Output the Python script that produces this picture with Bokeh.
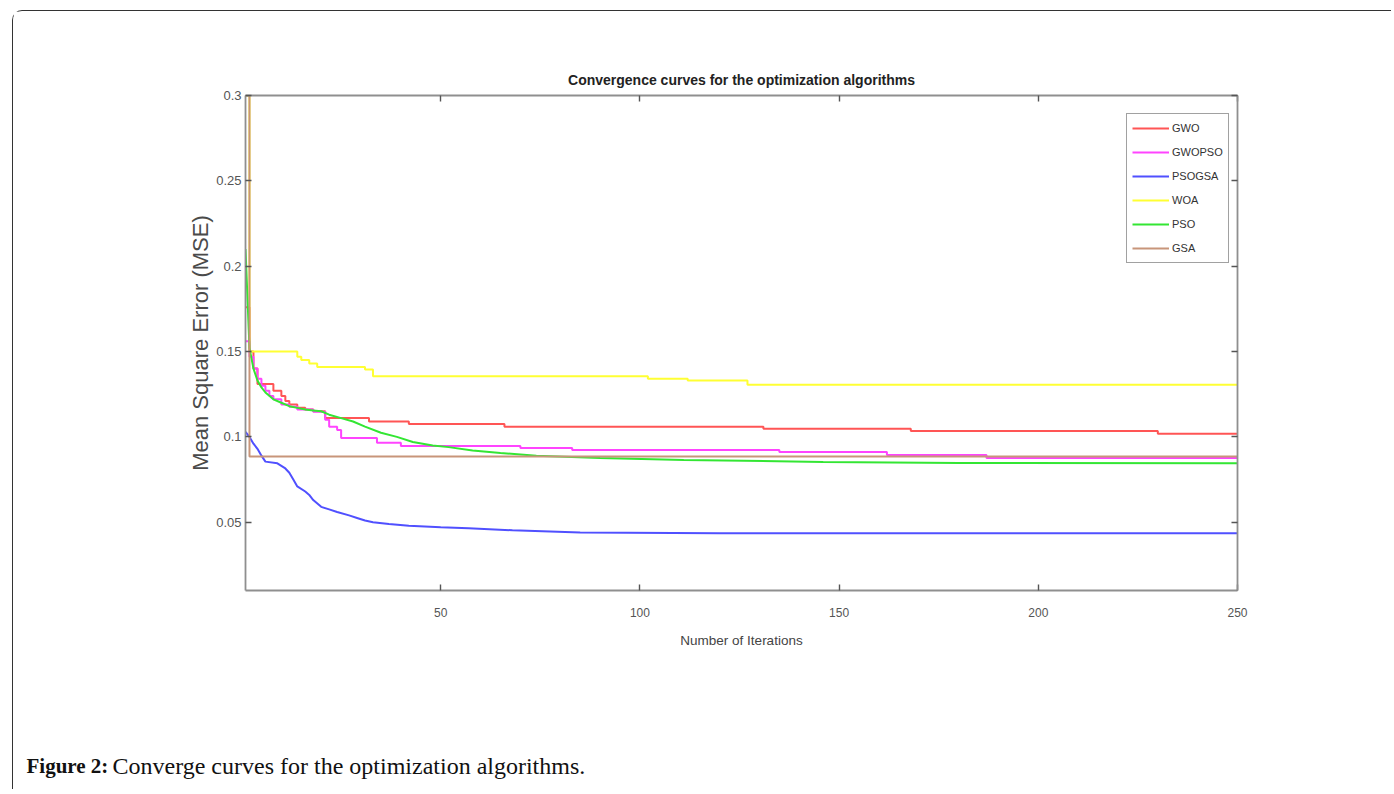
from bokeh.plotting import figure
from bokeh.layouts import column
from bokeh.models import (Range1d, LinearAxis, FixedTicker, Legend, LegendItem)
from bokeh.core.properties import value
from bokeh.embed import file_html
from bokeh.resources import INLINE

# ---------------- data ----------------
x_ticks = [50, 100, 150, 200, 250]
x_tick_labels = ["50", "100", "150", "200", "250"]
y_ticks = [0.05, 0.1, 0.15, 0.2, 0.25, 0.3]
y_tick_labels = ["0.05", "0.1", "0.15", "0.2", "0.25", "0.3"]

series_names = ["GWO", "GWOPSO", "PSOGSA", "WOA", "PSO", "GSA"]

gwo_iter = [1, 2, 3, 4, 8, 10, 11, 12, 14, 16, 18, 21, 32, 42, 66, 131, 168, 230, 250]
gwo_mse = [0.176, 0.150, 0.140, 0.131, 0.127, 0.124, 0.121, 0.119, 0.117, 0.116, 0.115,
           0.111, 0.109, 0.1076, 0.106, 0.1047, 0.1035, 0.1018, 0.1018]

gwopso_iter = [1, 2, 3, 4, 5, 6, 7, 8, 10, 12, 14, 18, 21, 22, 24, 25, 34, 40, 70, 83,
               135, 162, 187, 250]
gwopso_mse = [0.156, 0.147, 0.140, 0.134, 0.130, 0.127, 0.124, 0.122, 0.119, 0.1176,
              0.116, 0.1147, 0.110, 0.106, 0.104, 0.0994, 0.0965, 0.0947, 0.0935,
              0.0923, 0.0912, 0.0894, 0.0876, 0.0876]

psogsa_iter = [1, 2, 3, 4, 5, 6, 9, 11, 12, 13, 14, 16, 17, 18, 20, 22, 24, 27, 29, 31,
               33, 37, 42, 50, 57, 68, 85, 120, 250]
psogsa_mse = [0.103, 0.100, 0.096, 0.093, 0.089, 0.0855, 0.0845, 0.0815, 0.079, 0.075,
              0.071, 0.068, 0.066, 0.063, 0.059, 0.0575, 0.056, 0.054, 0.0525, 0.051,
              0.050, 0.049, 0.048, 0.047, 0.0465, 0.0453, 0.044, 0.0435, 0.0435]

woa_iter = [1, 2, 14, 15, 17, 19, 31, 33, 100, 102, 112, 127, 250]
woa_mse = [0.300, 0.150, 0.147, 0.145, 0.143, 0.141, 0.1395, 0.1355, 0.1355, 0.134,
           0.133, 0.1305, 0.1305]

pso_iter = [1, 2, 3, 4, 5, 6, 8, 10, 12, 14, 16, 18, 20, 22, 25, 28, 31, 35, 39, 43,
            48, 52, 58, 65, 74, 90, 111, 146, 180, 250]
pso_mse = [0.210, 0.152, 0.140, 0.133, 0.129, 0.126, 0.122, 0.120, 0.118, 0.117, 0.116,
           0.1155, 0.115, 0.113, 0.111, 0.109, 0.106, 0.1024, 0.100, 0.097, 0.095, 0.094,
           0.092, 0.0906, 0.089, 0.0876, 0.0865, 0.0853, 0.0847, 0.0845]

gsa_iter = [1, 2, 250]
gsa_mse = [0.300, 0.0885, 0.0885]

colors = ["#ff5555", "#ff44ff", "#5050ff", "#ffff33", "#33e633", "#c8957a"]
stepped = [True, True, False, True, False, True]

caption_bold = "Figure 2:"
caption_text = "Converge curves for the optimization algorithms."
chart_title = "Convergence curves for the optimization algorithms"

# ---------------- geometry (page px) ----------------
OX, OY = 13, 11            # where the content starts (inside outer border)
W1, H1 = 1378, 669         # main figure
H2 = 109                   # caption strip
F_L, F_T, F_R, F_B = 245, 95, 1237, 590   # frame edges on page

p = figure(width=W1, height=H1, output_backend="svg", toolbar_location=None,
           x_range=Range1d(1, 250), y_range=Range1d(0.01, 0.3),
           x_axis_location=None, y_axis_location=None,
           min_border_left=F_L - OX, min_border_right=OX + W1 - F_R,
           min_border_top=F_T - OY, min_border_bottom=OY + H1 - F_B,
           title=chart_title)
p.grid.visible = False
p.outline_line_color = None
p.background_fill_color = "white"
p.border_fill_color = "white"
p.title.align = "center"
p.title.text_font = "Liberation Sans"
p.title.text_font_size = "14px"
p.title.text_font_style = "bold"
p.title.text_color = "#222222"
p.title.standoff = 16

AXIS_COLOR = "#8f8f8f"
TICK_COLOR = "#555555"


def style_axis(ax):
    ax.axis_line_color = AXIS_COLOR
    ax.axis_line_width = 1.8
    ax.major_tick_in = 6
    ax.major_tick_out = 0
    ax.major_tick_line_color = TICK_COLOR
    ax.major_tick_line_width = 1.4
    ax.minor_tick_line_color = None


xb = LinearAxis(ticker=FixedTicker(ticks=x_ticks),
                major_label_overrides=dict(zip(x_ticks, x_tick_labels)),
                axis_label="Number of Iterations")
style_axis(xb)
xb.major_label_text_font = "Liberation Sans"
xb.major_label_text_font_size = "12px"
xb.major_label_text_color = "#555555"
xb.major_label_standoff = 17
xb.axis_label_text_font = "Liberation Sans"
xb.axis_label_text_font_size = "13.5px"
xb.axis_label_text_font_style = "normal"
xb.axis_label_text_color = "#444444"
xb.axis_label_standoff = 13
p.add_layout(xb, "below")

yl = LinearAxis(ticker=FixedTicker(ticks=y_ticks),
                major_label_overrides=dict(zip(y_ticks, y_tick_labels)),
                axis_label="Mean Square Error (MSE)")
style_axis(yl)
yl.major_label_text_font = "Liberation Sans"
yl.major_label_text_font_size = "13px"
yl.major_label_text_color = "#555555"
yl.major_label_standoff = 4
yl.axis_label_text_font = "Liberation Sans"
yl.axis_label_text_font_size = "22px"
yl.axis_label_text_font_style = "normal"
yl.axis_label_text_color = "#4a4a4a"
yl.axis_label_standoff = 0
p.add_layout(yl, "left")

xt = LinearAxis(ticker=FixedTicker(ticks=x_ticks))
style_axis(xt)
xt.major_label_text_alpha = 0
xt.major_label_text_font_size = "1px"
xt.major_label_standoff = 0
p.add_layout(xt, "above")

yr = LinearAxis(ticker=FixedTicker(ticks=y_ticks))
style_axis(yr)
yr.major_label_text_alpha = 0
yr.major_label_text_font_size = "1px"
p.add_layout(yr, "right")

# ---------------- curves ----------------
all_x = [gwo_iter, gwopso_iter, psogsa_iter, woa_iter, pso_iter, gsa_iter]
all_y = [gwo_mse, gwopso_mse, psogsa_mse, woa_mse, pso_mse, gsa_mse]
renderers = []
for i in range(6):
    if stepped[i]:
        r = p.step(all_x[i], all_y[i], mode="after", line_color=colors[i], line_width=2)
    else:
        r = p.line(all_x[i], all_y[i], line_color=colors[i], line_width=2)
    renderers.append(r)

legend = Legend(items=[LegendItem(label=series_names[i], renderers=[renderers[i]])
                       for i in range(6)],
                location=(1126 - F_L, F_B - 263))
legend.padding = 5
legend.spacing = 6
legend.label_height = 18
legend.glyph_height = 18
legend.glyph_width = 37
legend.label_standoff = 3
legend.margin = 0
legend.label_text_font = "Liberation Sans"
legend.label_text_font_size = "11px"
legend.label_text_color = "#333333"
legend.border_line_color = "#444444"
legend.border_line_width = 1.5
legend.background_fill_color = "white"
legend.background_fill_alpha = 1
p.add_layout(legend, "center")

# ---------------- caption strip ----------------
p2 = figure(width=W1, height=H2, output_backend="svg", toolbar_location=None,
            x_range=Range1d(0, W1), y_range=Range1d(H2, 0),
            x_axis_location=None, y_axis_location=None, min_border=0)
p2.grid.visible = False
p2.outline_line_color = None
p2.background_fill_color = "white"
p2.border_fill_color = "white"
for fig in (p, p2):
    if "frame_align" in fig.properties():
        fig.frame_align = False
cap_base = 765 - (OY + H1)
p2.text(x=[26 - OX], y=[cap_base], text=[caption_bold],
        text_font=value("Liberation Serif"), text_font_size="21px",
        text_font_style="bold", text_color="#111111", text_baseline="alphabetic")
p2.text(x=[112 - OX], y=[cap_base], text=[caption_text],
        text_font=value("Liberation Serif"), text_font_size="24px",
        text_color="#111111", text_baseline="alphabetic")

layout = column(p, p2, margin=(10, 0, 0, 12), spacing=0,
                styles={"border-top": "1px solid #333333",
                        "border-left": "1px solid #333333",
                        "border-top-left-radius": "10px",
                        "background-color": "white"})

open("out.html", "w").write(file_html(layout, INLINE))
